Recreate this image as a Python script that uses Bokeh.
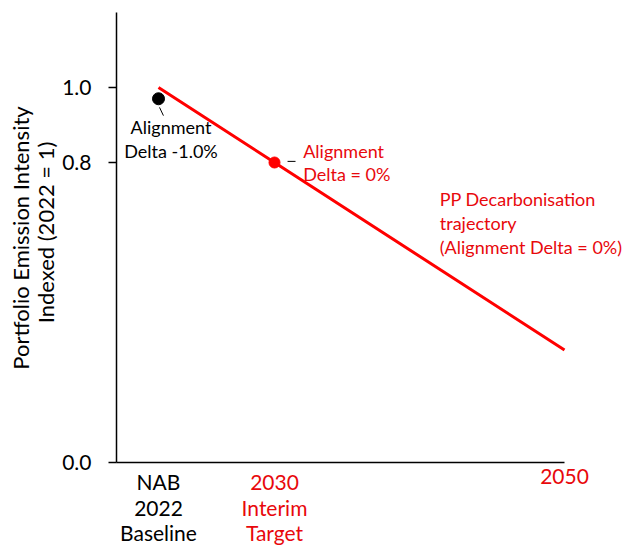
from bokeh.plotting import figure
from bokeh.models import FixedTicker, Range1d, PrintfTickFormatter, ColumnDataSource
from bokeh.embed import file_html
from bokeh.resources import INLINE
from bokeh.core.properties import value
import math

# ---- data ----
years = [2022, 2030, 2050]
pathway = [1.0, 0.8, 0.3]
target_year = [2030]
target_value = [0.8]
nab_year = [2022]
nab_value = [0.97]
cat_years = [2022, 2030, 2050]
cat_labels = ["NAB\n2022\nBaseline", "2030\nInterim\nTarget", "2050"]
y_ticks = [0.0, 0.8, 1.0]
y_title = ["Portfolio Emission Intensity", "Indexed (2022 = 1)"]

RED = "#FF0000"
TXT_RED = "#E8080C"
FONT = "Lato"

X0, X1 = 2011.103, 2054.207
Y0, Y1 = -0.2213, 1.232
AXIS_X = 2019.103

p = figure(width=625, height=545, output_backend="svg", toolbar_location=None,
           x_range=Range1d(X0, X1), y_range=Range1d(Y0, Y1),
           min_border_left=0, min_border_right=0, min_border_top=0,
           min_border_bottom=0)
p.outline_line_color = None
p.xgrid.visible = False
p.ygrid.visible = False

# y axis (real axis, placed inside the frame)
ya = p.yaxis[0]
ya.fixed_location = AXIS_X
ya.bounds = (0, 1.2)
ya.ticker = FixedTicker(ticks=y_ticks)
ya.formatter = PrintfTickFormatter(format="%.1f")
ya.minor_tick_line_color = None
ya.major_tick_in = 0
ya.major_tick_out = 8
ya.major_tick_line_width = 1.5
ya.axis_line_width = 1.5
ya.axis_line_color = "black"
ya.major_tick_line_color = "black"
ya.major_label_text_font = FONT
ya.major_label_text_font_size = "21px"
ya.major_label_text_color = "black"
ya.major_label_standoff = 17

# x axis (real axis at y = 0)
xa = p.xaxis[0]
xa.fixed_location = 0
xa.bounds = (AXIS_X, years[-1])
xa.ticker = FixedTicker(ticks=[])
xa.minor_tick_line_color = None
xa.major_tick_line_color = None
xa.major_label_text_font_size = "0px"
xa.axis_line_width = 1.5
xa.axis_line_color = "black"

# y axis title (two rotated lines)
p.text(x=[2012.48, 2014.207], y=[0.5987, 0.6133], text=y_title, angle=math.pi / 2,
       text_font=value(FONT), text_font_size="22px", text_color="black",
       text_align="center", text_baseline="middle")

# trajectory
p.line(years, pathway, line_color=RED, line_width=3)
p.scatter(target_year, target_value, size=11, fill_color=RED, line_color=RED)
p.scatter(nab_year, nab_value, size=12, fill_color="black", line_color="black")

# leader lines
p.segment(x0=[nab_year[0] + 0.07], y0=[nab_value[0] - 0.023],
          x1=[nab_year[0] + 0.34], y1=[nab_value[0] - 0.045],
          line_color="black", line_width=1)
p.segment(x0=[target_year[0] + 0.9], y0=[target_value[0] + 0.003],
          x1=[target_year[0] + 1.45], y1=[target_value[0] + 0.003],
          line_color="black", line_width=1)

# annotation texts
p.text(x=[nab_year[0] + 0.862], y=[0.9227], text=["Alignment\nDelta -1.0%"],
       text_font=value(FONT), text_font_size="18px", text_color="black",
       text_align="center", text_baseline="top", text_line_height=1.065)
p.text(x=[2031.98], y=[0.8613], text=["Alignment\nDelta = 0%"],
       text_font=value(FONT), text_font_size="18px", text_color=TXT_RED,
       text_align="left", text_baseline="top", text_line_height=1.065)
p.text(x=[2041.4], y=[0.7333], text=["PP Decarbonisation\ntrajectory\n(Alignment Delta = 0%)"],
       text_font=value(FONT), text_font_size="18px", text_color=TXT_RED,
       text_align="left", text_baseline="top", text_line_height=1.11)

# category labels under the x axis
cat_src = ColumnDataSource(dict(
    x=cat_years, y=[-0.0173] * len(cat_years), text=cat_labels,
    color=["black" if yr == 2022 else TXT_RED for yr in cat_years]))
p.text(x="x", y="y", text="text", text_color="color", source=cat_src,
       text_font=value(FONT), text_font_size="21px",
       text_align="center", text_baseline="top", text_line_height=1.03)

open("out.html", "w").write(file_html(p, INLINE))
